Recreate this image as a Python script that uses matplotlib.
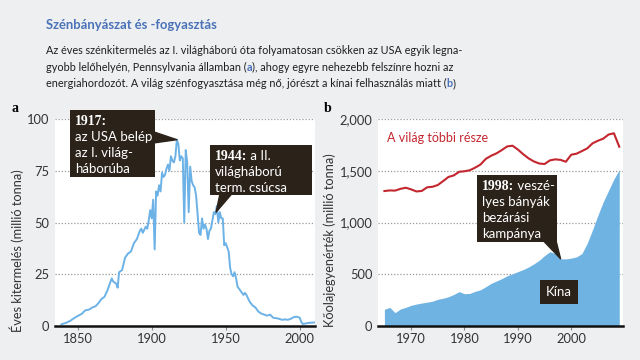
import matplotlib
matplotlib.use("Agg")
import matplotlib.pyplot as plt
from matplotlib.patches import Rectangle
from matplotlib.ticker import FuncFormatter

W, H = 640, 360

# --- data -------------------------------------------------------------
# (a) Pennsylvania coal output, million tonnes
coal_years = [1839, 1842, 1845, 1848, 1850, 1853, 1855, 1858, 1860, 1862,
              1864, 1866, 1868, 1870, 1872, 1873, 1874, 1876, 1877, 1878,
              1880, 1882, 1884, 1886, 1888, 1890, 1892, 1893, 1894, 1896,
              1897, 1898, 1899, 1900, 1901, 1902, 1903, 1904, 1905, 1906,
              1907, 1908, 1909, 1910, 1911, 1912, 1913, 1914, 1915, 1916,
              1917, 1918, 1919, 1920, 1921, 1922, 1923, 1924, 1925, 1926,
              1927, 1928, 1929, 1930, 1931, 1932, 1933, 1934, 1935, 1936,
              1937, 1938, 1939, 1940, 1941, 1942, 1943, 1944, 1945, 1946,
              1947, 1948, 1949, 1950, 1951, 1952, 1953, 1954, 1955, 1956,
              1957, 1958, 1959, 1960, 1962, 1963, 1964, 1966, 1968, 1970,
              1972, 1974, 1976, 1978, 1980, 1982, 1984, 1986, 1988, 1990,
              1992, 1994, 1996, 1998, 2000, 2001, 2002, 2004, 2006, 2008,
              2010]
coal_output = [0.8, 1.5, 2.5, 4, 4.8, 6, 7.5, 8, 9, 9.5,
               11, 13, 14, 17, 21, 23, 21.5, 20.5, 18.5, 26,
               27, 33, 35, 36, 40, 42, 46, 47, 45, 48,
               47, 51, 56, 52, 61, 37, 65, 63, 68, 65,
               74, 72, 73, 76, 78, 75, 82, 80, 79, 82,
               90, 88, 80, 82, 81, 50, 85, 79, 55, 77,
               70, 68, 67, 63, 54, 45, 44, 52, 47, 49,
               47, 42, 46, 47, 51, 55, 54, 58, 50, 55,
               52, 52, 39, 40, 38, 36, 28, 25, 24, 26,
               23, 19, 18, 17, 15, 16, 15, 12, 10, 9,
               7, 6, 5.5, 5, 5.5, 4, 3.8, 3.5, 3, 3.2,
               3, 3.5, 4.3, 4.5, 4, 2, 1.0, 1.2, 1.5, 1.6,
               1.7]

# (b) coal consumption, million tonnes oil equivalent
cons_years = list(range(1965, 2010))
rest_of_world = [1304, 1310, 1308, 1325, 1336, 1320, 1300, 1305, 1340, 1345,
                 1362, 1400, 1440, 1455, 1490, 1495, 1505, 1530, 1560, 1615,
                 1645, 1668, 1700, 1735, 1742, 1705, 1660, 1620, 1590, 1570,
                 1565, 1600, 1610, 1605, 1587, 1655, 1665, 1690, 1716, 1765,
                 1790, 1810, 1850, 1862, 1732]
china = [161, 180, 129, 164, 180, 200, 212, 222, 230, 240,
         258, 268, 283, 305, 332, 312, 315, 335, 350, 380,
         412, 435, 458, 485, 505, 525, 545, 570, 600, 635,
         680, 718, 700, 650, 648, 656, 668, 700, 800, 930,
         1070, 1200, 1310, 1420, 1510]

left_yticks = [0, 25, 50, 75, 100]
left_xticks = [1850, 1900, 1950, 2000]
right_yticks = [0, 500, 1000, 1500, 2000]
right_xticks = [1970, 1980, 1990, 2000]

# --- style ------------------------------------------------------------
BG = "#eeeff1"
DARK = "#2b221a"
BLUE_LINE = "#6cb2e6"
BLUE_FILL = "#6fb3e3"
RED = "#c4262e"
TITLE_BLUE = "#4a72b8"
SANS = ["Lato", "DejaVu Sans"]
SERIF = ["Liberation Serif", "DejaVu Serif"]

plt.rcParams["font.family"] = SANS

fig = plt.figure(figsize=(6.4, 3.6), dpi=100, facecolor=BG)
renderer = fig.canvas.get_renderer()


def fx(px):
    return px / W


def fy(py):
    return 1 - py / H


def segments(x, y, parts):
    """Draw text pieces one after another on a baseline (pixel coords)."""
    for text, props in parts:
        t = fig.text(fx(x), fy(y), text, va="baseline", ha="left", **props)
        x += t.get_window_extent(renderer).width


def style_axes(ax, yticks, xticks):
    ax.set_facecolor("white")
    for s in ("top", "right", "left"):
        ax.spines[s].set_visible(False)
    ax.spines["bottom"].set_linewidth(1.8)
    ax.spines["bottom"].set_color("#111111")
    ax.set_yticks(yticks)
    ax.set_xticks(xticks)
    ax.tick_params(axis="y", length=0, pad=4, labelsize=9.3, labelcolor="#333333")
    ax.tick_params(axis="x", length=3, width=0.8, color="#888888", pad=2,
                   labelsize=9.3, labelcolor="#333333")
    ax.grid(axis="y", color="#999999", linestyle=(0, (1, 1.5)), linewidth=0.9)
    ax.set_axisbelow(True)


# title and intro text
segments(46, 29, [("Szénbányászat és -fogyasztás",
                   dict(fontsize=9.4, fontweight="bold", color=TITLE_BLUE))])
body = dict(fontsize=7.85, color="#1e1e1e")
blue_b = dict(fontsize=7.85, color=TITLE_BLUE, fontweight="bold")
segments(46, 54, [("Az éves szénkitermelés az I. világháború óta folyamatosan "
                   "csökken az USA egyik legna-", body)])
segments(46, 71, [("gyobb lelőhelyén, Pennsylvania államban (", body),
                  ("a", blue_b),
                  ("), ahogy egyre nehezebb felszínre hozni az", body)])
segments(46, 87, [("energiahordozót. A világ szénfogyasztása még nő, "
                   "jórészt a kínai felhasználás miatt (", body),
                  ("b", blue_b), (")", body)])

# --- panel a ----------------------------------------------------------
ax1 = fig.add_axes([fx(55), fy(326), fx(260), (326 - 119) / H])
style_axes(ax1, left_yticks, left_xticks)
ax1.plot(coal_years, coal_output, color=BLUE_LINE, lw=1.4, solid_joinstyle="round")
ax1.set_xlim(1834.7, 2010.3)
ax1.set_ylim(0, 100)

fig.text(fx(15), fy(108), "a", fontsize=10, fontweight="bold",
         family=SERIF, ha="center", va="center")
fig.text(fx(17), fy(332), "Éves kitermelés (millió tonna)", rotation=90,
         fontsize=9.2, color="#333333", ha="center", va="bottom")

# --- panel b ----------------------------------------------------------
ax2 = fig.add_axes([fx(378), fy(326), fx(245), (326 - 119) / H])
style_axes(ax2, right_yticks, right_xticks)
ax2.fill_between(cons_years, 0, china, color=BLUE_FILL, lw=0)
ax2.plot(cons_years, rest_of_world, color=RED, lw=1.5)
ax2.set_xlim(1963.8, 2009.7)
ax2.set_ylim(0, 2000)
ax2.yaxis.set_major_formatter(FuncFormatter(lambda v, p: f"{int(v):,}"))

fig.text(fx(328), fy(108), "b", fontsize=10, fontweight="bold",
         family=SERIF, ha="center", va="center")
fig.text(fx(330), fy(327), "Kőolajegyenérték (millió tonna)", rotation=90,
         fontsize=9.2, color="#333333", ha="center", va="bottom")
fig.text(fx(387), fy(138), "A világ többi része", color=RED, fontsize=9,
         ha="left", va="center")
fig.text(fx(559), fy(292), "Kína", color="white", fontsize=9.5,
         ha="center", va="center",
         bbox=dict(boxstyle="square,pad=0.45", fc=DARK, ec="none"))


# --- callouts ---------------------------------------------------------
def callout(ax, box, lines, target, tail):
    x0, y0, x1, y1 = box
    fig.patches.append(Rectangle((fx(x0), fy(y1)), fx(x1 - x0), (y1 - y0) / H,
                                 transform=fig.transFigure, fc=DARK, ec="none",
                                 zorder=5))
    ax.annotate("", xy=target, xycoords="data",
                xytext=(tail[0], H - tail[1]), textcoords="figure pixels",
                arrowprops=dict(arrowstyle="wedge,tail_width=0.55", fc=DARK,
                                ec=DARK, shrinkA=0, shrinkB=0,
                                mutation_scale=18),
                zorder=4, annotation_clip=False)
    base = y0 + 15
    for i, parts in enumerate(lines):
        segments(x0 + 5, base + i * 16, [(t, dict(p, zorder=6)) for t, p in parts])


bold = dict(fontsize=10, fontweight="bold", color="white", family=SERIF)
txt = dict(fontsize=9.5, color="white")

callout(ax1, (70, 110, 155, 177),
        [[("1917:", bold)], [("az USA belép", txt)],
         [("az I. világ-", txt)], [("háborúba", txt)]],
        (1917, 90), (148, 137))
callout(ax1, (210, 145, 312, 195),
        [[("1944:", bold), (" a II.", txt)], [("világháború", txt)],
         [("term. csúcsa", txt)]],
        (1943.5, 55), (228, 188))
callout(ax2, (477, 175, 557, 242),
        [[("1998:", bold), (" veszé-", txt)], [("lyes bányák", txt)],
         [("bezárási", txt)], [("kampánya", txt)]],
        (1998, 650), (548, 236))

fig.savefig("out.png", dpi=100, facecolor=BG)
